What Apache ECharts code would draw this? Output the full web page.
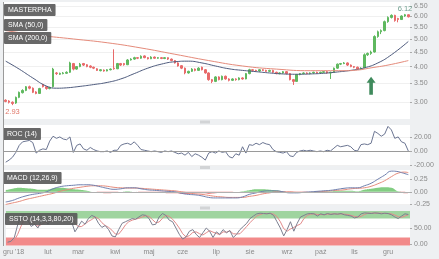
<!DOCTYPE html>
<html><head><meta charset="utf-8">
<script src="https://cdn.jsdelivr.net/npm/echarts@6/dist/echarts.min.js"></script>
<style>html,body{margin:0;padding:0;background:#eef0f2}#c{width:439px;height:259px}</style>
</head><body><div id="c"></div>
<script>
// ---- data ----
const opens = [3.05,3.03,3.00,2.98,3.12,3.24,3.30,3.40,3.36,3.26,
3.22,3.46,3.40,3.35,3.40,3.80,3.76,3.78,3.79,3.82,
4.10,3.92,4.00,4.10,4.06,4.02,3.98,3.93,3.87,3.89,
3.86,3.90,3.95,3.93,4.10,4.10,4.06,4.22,4.25,4.30,
4.28,4.36,4.30,4.26,4.32,4.28,4.30,4.27,4.30,4.25,
4.20,4.12,4.03,3.95,3.80,3.85,3.92,3.88,3.98,3.90,
3.80,3.60,3.55,3.68,3.60,3.70,3.62,3.58,3.62,3.60,
3.65,3.62,3.78,3.90,3.88,3.86,3.90,3.88,3.85,3.88,
3.82,3.78,3.80,3.84,3.78,3.60,3.55,3.75,3.78,3.80,
3.78,3.80,3.82,3.80,3.82,3.84,3.80,3.82,3.95,4.08,
4.10,4.12,4.05,4.00,3.98,3.92,3.96,4.40,4.45,4.50,
5.10,5.30,5.35,5.75,5.95,6.05,5.90,5.85,6.02,6.08];
const closes = [3.02,3.00,2.97,3.12,3.25,3.30,3.40,3.36,3.25,3.22,
3.35,3.40,3.35,3.38,3.92,3.78,3.79,3.80,3.82,4.12,
3.92,4.00,4.08,4.05,4.00,3.98,3.95,3.88,3.90,3.86,
3.90,3.92,3.93,4.10,4.05,4.06,4.22,4.25,4.30,4.28,
4.35,4.30,4.26,4.32,4.28,4.30,4.27,4.30,4.25,4.20,
4.12,4.02,3.95,3.80,3.85,3.92,3.88,3.95,3.90,3.80,
3.60,3.55,3.68,3.60,3.70,3.62,3.58,3.62,3.60,3.65,
3.62,3.78,3.90,3.88,3.86,3.90,3.88,3.85,3.88,3.82,
3.78,3.80,3.84,3.78,3.60,3.55,3.75,3.78,3.80,3.78,
3.80,3.82,3.80,3.82,3.84,3.80,3.82,3.95,4.08,4.10,
4.12,4.05,4.00,3.98,3.92,3.95,4.40,4.45,4.50,5.10,
5.30,5.35,5.75,5.95,6.05,5.80,5.85,6.02,6.08,5.98];
const lows = [3.00,2.97,2.93,2.96,3.10,3.22,3.28,3.33,3.23,3.20,
3.21,3.38,3.32,3.33,3.38,3.74,3.74,3.76,3.77,3.80,
3.88,3.90,3.98,4.02,3.98,3.95,3.92,3.86,3.85,3.84,
3.85,3.88,3.90,3.92,4.02,4.03,4.05,4.20,4.23,4.25,
4.26,4.28,4.24,4.25,4.26,4.26,4.25,4.25,4.22,4.18,
4.10,4.00,3.92,3.76,3.78,3.83,3.85,3.86,3.88,3.78,
3.57,3.50,3.53,3.58,3.58,3.60,3.55,3.56,3.57,3.58,
3.60,3.61,3.76,3.85,3.84,3.84,3.86,3.83,3.83,3.80,
3.76,3.76,3.78,3.76,3.58,3.45,3.54,3.73,3.76,3.76,
3.76,3.78,3.78,3.78,3.80,3.78,3.62,3.81,3.93,4.05,
4.08,4.02,3.98,3.95,3.90,3.90,3.95,4.36,4.40,4.48,
5.05,5.20,5.32,5.70,5.90,5.75,5.72,5.83,5.98,5.95];
const highs = [3.07,3.05,3.02,3.14,3.27,3.33,3.42,3.43,3.38,3.28,
3.37,3.48,3.42,3.40,3.96,3.83,3.81,3.83,3.85,4.16,
4.12,4.02,4.12,4.12,4.08,4.04,4.00,3.95,3.92,3.91,
3.92,3.94,4.60,4.12,4.12,4.12,4.25,4.28,4.33,4.32,
4.38,4.38,4.32,4.35,4.34,4.32,4.32,4.32,4.31,4.27,
4.22,4.14,4.05,3.97,3.87,3.95,3.94,3.98,4.00,3.92,
3.82,3.62,3.70,3.70,3.72,3.72,3.64,3.64,3.64,3.67,
3.67,3.80,3.93,3.92,3.90,3.92,3.92,3.90,3.90,3.90,
3.84,3.82,3.86,3.86,3.80,3.62,3.77,3.80,3.82,3.82,
3.82,3.84,3.84,3.84,3.86,3.86,3.84,3.97,4.10,4.12,
4.15,4.14,4.07,4.02,4.00,3.98,4.45,4.48,4.55,5.15,
5.35,5.40,5.80,6.00,6.10,6.08,5.93,6.05,6.12,6.10];
const sma50 = [[0,4.18],[4,3.92],[8,3.65],[12,3.42],[15,3.36],[18,3.37],[22,3.41],[26,3.46],[30,3.52],[34,3.62],[38,3.78],[42,3.95],[46,4.08],[50,4.16],[54,4.18],[58,4.12],[62,4.02],[66,3.93],[70,3.88],[74,3.84],[78,3.80],[82,3.77],[86,3.76],[90,3.77],[94,3.79],[98,3.83],[102,3.88],[106,3.96],[110,4.12],[114,4.40],[119,4.90]];
const sma200 = [[0,5.35],[10,5.15],[20,5.00],[30,4.85],[40,4.65],[50,4.42],[60,4.20],[70,4.02],[80,3.92],[90,3.87],[100,3.87],[104,3.89],[108,3.96],[113,4.05],[119,4.20]];
const roc = [-16,-13,-9,-2,8,13,14,15,12,-3,1,3,2,14,21,18,20,17,16,20,
-2,8,10,3,1,5,2,0,-1,-1,0,-2,1,1,8,10,11,9,13,8,
2,1,0,-1,0,-1,-2,0,-1,0,-2,-4,-3,-6,-2,-8,-4,-6,-9,-13,
-3,-1,-3,0,-2,-1,-8,-10,-4,-6,6,-3,9,8,11,9,12,10,9,2,
-1,-2,-3,-1,-7,-8,-2,0,1,0,1,0,-1,0,-1,1,0,4,8,6,
7,8,6,1,0,9,10,9,11,28,25,21,24,35,30,18,20,13,11,0];
const macd = [[0,-0.20],[2,-0.17],[4,-0.12],[6,-0.08],[8,-0.05],[10,-0.03],[12,0.00],[14,0.06],[16,0.10],[18,0.12],[20,0.13],[22,0.14],[24,0.14],[26,0.13],[28,0.10],[30,0.07],[32,0.05],[34,0.06],[36,0.08],[38,0.08],[40,0.06],[42,0.04],[44,0.03],[46,0.02],[48,0.01],[50,0.00],[52,-0.03],[54,-0.05],[56,-0.06],[58,-0.08],[60,-0.11],[62,-0.12],[64,-0.12],[66,-0.12],[68,-0.12],[70,-0.10],[72,-0.05],[74,-0.02],[76,0.01],[78,0.02],[80,0.02],[82,0.00],[84,-0.02],[86,-0.02],[88,-0.01],[90,0.00],[92,0.01],[94,0.02],[96,0.03],[98,0.05],[100,0.07],[102,0.08],[104,0.08],[106,0.12],[108,0.17],[110,0.25],[112,0.33],[114,0.41],[116,0.40],[117,0.38],[118,0.36],[119,0.34]];
const signal = [[0,-0.25],[2,-0.22],[4,-0.19],[6,-0.15],[8,-0.12],[10,-0.09],[12,-0.06],[14,-0.03],[16,0.01],[18,0.04],[20,0.07],[22,0.09],[24,0.11],[26,0.12],[28,0.12],[30,0.11],[32,0.09],[34,0.08],[36,0.075],[38,0.075],[40,0.07],[42,0.06],[44,0.05],[46,0.04],[48,0.03],[50,0.02],[52,0.00],[54,-0.02],[56,-0.04],[58,-0.05],[60,-0.07],[62,-0.09],[64,-0.10],[66,-0.11],[68,-0.11],[70,-0.11],[72,-0.09],[74,-0.07],[76,-0.04],[78,-0.02],[80,0.00],[82,0.00],[84,0.00],[86,-0.01],[88,-0.01],[90,-0.01],[92,0.00],[94,0.01],[96,0.02],[98,0.03],[100,0.04],[102,0.06],[104,0.07],[106,0.08],[108,0.11],[110,0.16],[112,0.22],[114,0.30],[116,0.37],[118,0.39],[119,0.38]];
const hist = [[0,0.03],[2,0.06],[4,0.08],[6,0.07],[8,0.06],[10,0.04],[12,0.04],[14,0.07],[16,0.08],[18,0.07],[20,0.05],[22,0.04],[24,0.02],[26,0.00],[28,-0.02],[30,-0.03],[32,-0.02],[34,0.00],[36,0.01],[38,0.00],[40,-0.01],[42,-0.01],[44,-0.02],[46,-0.02],[48,-0.03],[50,-0.03],[52,-0.04],[54,-0.04],[56,-0.03],[58,-0.03],[60,-0.04],[62,-0.03],[64,-0.02],[66,-0.01],[68,0.00],[70,0.01],[72,0.03],[74,0.05],[76,0.05],[78,0.04],[80,0.03],[82,0.01],[84,-0.02],[86,-0.02],[88,-0.01],[90,0.00],[92,0.01],[94,0.01],[96,0.01],[98,0.02],[100,0.02],[102,0.02],[104,0.01],[106,0.04],[108,0.06],[110,0.08],[112,0.09],[114,0.08],[116,0.01],[118,-0.03],[119,-0.03]];
const stochK = [5,8,20,60,88,92,75,55,62,50,72,78,62,80,95,88,85,92,90,70,
38,55,72,62,80,90,85,65,52,58,45,25,22,45,65,70,75,80,78,85,
92,90,80,60,62,85,96,90,75,70,50,30,15,22,40,45,30,20,35,50,
40,20,38,30,45,35,42,20,30,45,55,65,80,88,95,97,96,95,97,90,
70,50,25,45,70,40,65,85,90,95,96,95,88,95,92,96,93,95,94,96,
92,90,88,82,85,95,98,97,96,98,97,95,97,96,92,85,80,88,95,93];
const stochD = [8,7,11,30,56,80,85,74,64,56,61,67,71,73,79,88,89,88,89,84,
66,54,55,63,71,77,85,80,67,58,52,43,31,31,44,60,70,75,78,81,
85,89,87,77,67,69,81,90,87,78,65,50,32,22,26,36,38,32,28,35,
42,37,33,29,38,37,41,32,31,32,43,55,67,78,88,93,96,96,96,94,
86,70,48,40,47,52,58,63,80,90,94,95,93,93,92,94,94,95,94,95,
94,93,90,87,85,87,93,97,97,97,97,97,96,96,95,91,86,84,88,92];
const startDate = Date.UTC(2018, 11, 28);
const stepDays = 3;
const tickMonths = ['2018-12','2019-02','2019-03','2019-04','2019-05','2019-06','2019-07','2019-08','2019-09','2019-10','2019-11','2019-12'];
const tickLabels = ["gru '18",'lut','mar','kwi','maj','cze','lip','sie','wrz','paź','lis','gru'];
const priceTicks = [3.0,3.5,4.0,4.5,5.0,5.5,6.0,6.5];
const rocTicks = [-20,0,20];
const macdTicks = [-0.25,0,0.25];
const stochTicks = [0,50];
const arrowIndex = 108, arrowPrice = 3.43;

// ---- build ----
const cats = closes.map((_, i) => new Date(startDate + i*stepDays*86400000).toISOString().slice(0,10));
const labelAt = new Map();
tickMonths.forEach((m, k) => { const idx = cats.findIndex(c => c.startsWith(m)); if (idx >= 0) labelAt.set(idx, k); });
const candles = closes.map((c, i) => [opens[i], c, lows[i], highs[i]]);
const histPos = hist.map(([i, v]) => [i, Math.max(v, 0)]);
const histNeg = hist.map(([i, v]) => [i, Math.min(v, 0)]);

const FONT = 'Liberation Sans, Arial, sans-serif';
const axisLbl = {fontSize: 7, color: '#8a8a8a', fontFamily: FONT, margin: 4};
const G = [
  {left: 4, right: 29, top: 2, height: 117},
  {left: 4, right: 29, top: 125, height: 40},
  {left: 4, right: 29, top: 170.1, height: 34.4},
  {left: 4, right: 29, top: 211, height: 34.4}
].map(g => Object.assign(g, {show: true, backgroundColor: '#ffffff', borderWidth: 0}));

const xAxes = G.map((g, k) => ({
  type: 'category', gridIndex: k, data: cats, boundaryGap: true,
  show: k === 3,
  axisLine: {show: false}, axisTick: {show: false}, splitLine: {show: false},
  axisLabel: k === 3 ? {
    fontSize: 7, color: '#8a8a8a', fontFamily: FONT, margin: 3,
    interval: (idx) => labelAt.has(idx),
    formatter: (v, idx) => { const k2 = labelAt.get(idx); if (k2 === undefined) return ''; return k2 === 0 ? '{f|' + tickLabels[0] + '}' : tickLabels[k2]; },
    rich: {f: {fontSize: 7, color: '#8a8a8a', fontFamily: FONT, padding: [0, 0, 0, 12]}}
  } : {show: false}
}));

function yAx(k, extra, ticks, digits) {
  return Object.assign({
    gridIndex: k, position: 'right', scale: false,
    axisLine: {show: false},
    axisTick: {show: true, length: 2, lineStyle: {color: '#aaa'}, customValues: ticks},
    axisLabel: Object.assign({}, axisLbl, {customValues: ticks, formatter: v => Number(v).toFixed(digits)}),
    splitLine: {show: true, lineStyle: {color: '#f0f0f0', width: 1}}
  }, extra);
}

const yAxes = [
  yAx(0, {type: 'log', logBase: 10, min: 2.62, max: 6.74}, priceTicks, 2),
  yAx(1, {type: 'value', min: -20, max: 37}, rocTicks, 2),
  yAx(2, {type: 'value', min: -0.25, max: 0.43}, macdTicks, 2),
  yAx(3, {type: 'value', min: -5, max: 104}, stochTicks, 2)
];

const lineBase = {type: 'line', symbol: 'none', showSymbol: false, animation: false};
const titleBox = (text, left, top) => ({
  text, left, top, padding: [2, 4], backgroundColor: 'rgba(88,88,88,0.9)', borderRadius: 1,
  textStyle: {color: '#ffffff', fontSize: 7, fontWeight: 'normal', fontFamily: FONT, lineHeight: 8}
});

const option = {
  backgroundColor: '#eef0f2',
  animation: false,
  title: [
    titleBox('MASTERPHA', 4, 4),
    titleBox('SMA (50,0)', 4, 19),
    titleBox('SMA (200,0)', 4, 32),
    titleBox('ROC (14)', 3, 128),
    titleBox('MACD (12,26,9)', 3, 172),
    titleBox('SSTO (14,3,3,80,20)', 5, 213)
  ],
  grid: G,
  xAxis: xAxes,
  yAxis: yAxes,
  graphic: [
    {type: 'line', shape: {x1: 3.5, y1: 2, x2: 3.5, y2: 246}, style: {stroke: '#9a9a9a', lineWidth: 1}, z: 100},
    {type: 'rect', shape: {x: 200, y: 120.5, width: 10, height: 3}, style: {fill: '#d2d4d6'}},
    {type: 'rect', shape: {x: 200, y: 166, width: 10, height: 3}, style: {fill: '#d2d4d6'}},
    {type: 'rect', shape: {x: 200, y: 206.5, width: 10, height: 3}, style: {fill: '#d2d4d6'}}
  ],
  series: [
    {type: 'candlestick', xAxisIndex: 0, yAxisIndex: 0, data: candles, barWidth: 2,
     itemStyle: {color: '#5fb85f', color0: '#e86a6a', borderColor: '#5fb85f', borderColor0: '#e86a6a', borderWidth: 1},
     markPoint: {
       animation: false,
       data: [
         {type: 'max', valueDim: 'highest', symbol: 'circle', symbolSize: 0,
          label: {show: true, position: 'top', distance: 1, fontSize: 7.5, color: '#6f9f8f', fontFamily: FONT, formatter: p => Number(p.value).toFixed(2)}},
         {type: 'min', valueDim: 'lowest', symbol: 'circle', symbolSize: 0,
          label: {show: true, position: 'bottom', distance: 3, fontSize: 7.5, color: '#e0786a', fontFamily: FONT, formatter: p => Number(p.value).toFixed(2)}},
         {coord: [arrowIndex, arrowPrice], symbol: 'path://M5,0 L10,6 L7,6 L7,18 L3,18 L3,6 L0,6 Z', symbolSize: [9, 18],
          itemStyle: {color: '#3f8a5c'}, label: {show: false}}
       ]
     }},
    Object.assign({}, lineBase, {xAxisIndex: 0, yAxisIndex: 0, data: sma50, smooth: true, lineStyle: {color: '#4e5b7d', width: 1}}),
    Object.assign({}, lineBase, {xAxisIndex: 0, yAxisIndex: 0, data: sma200, smooth: true, lineStyle: {color: '#e58b7b', width: 1}}),
    Object.assign({}, lineBase, {xAxisIndex: 1, yAxisIndex: 1, data: roc, lineStyle: {color: '#6b7592', width: 1},
      markLine: {silent: true, symbol: 'none', label: {show: false}, animation: false, lineStyle: {color: '#9a9a9a', type: 'solid', width: 1}, data: [{yAxis: 0}]}}),
    Object.assign({}, lineBase, {xAxisIndex: 2, yAxisIndex: 2, data: histPos, smooth: true, lineStyle: {width: 0}, areaStyle: {color: '#6cc46c', opacity: 0.85}}),
    Object.assign({}, lineBase, {xAxisIndex: 2, yAxisIndex: 2, data: histNeg, smooth: true, lineStyle: {width: 0}, areaStyle: {color: '#ea6f6f', opacity: 0.85},
      markLine: {silent: true, symbol: 'none', label: {show: false}, animation: false, lineStyle: {color: '#b0b0b0', type: 'solid', width: 1}, data: [{yAxis: 0}]}}),
    Object.assign({}, lineBase, {xAxisIndex: 2, yAxisIndex: 2, data: signal, smooth: true, lineStyle: {color: '#e58b7b', width: 1}}),
    Object.assign({}, lineBase, {xAxisIndex: 2, yAxisIndex: 2, data: macd, smooth: true, lineStyle: {color: '#6f7fae', width: 1}}),
    Object.assign({}, lineBase, {xAxisIndex: 3, yAxisIndex: 3, data: stochD, lineStyle: {color: '#e38b8b', width: 1},
      markArea: {silent: true, animation: false, data: [
        [{yAxis: 80, itemStyle: {color: '#9fd49f'}}, {yAxis: 104}],
        [{yAxis: -5, itemStyle: {color: '#f28a8a'}}, {yAxis: 20}]
      ]}}),
    Object.assign({}, lineBase, {xAxisIndex: 3, yAxisIndex: 3, data: stochK, lineStyle: {color: '#7c7f90', width: 1}})
  ]
};
const chart = echarts.init(document.getElementById('c'));
chart.setOption(option);
</script>
</body></html>
